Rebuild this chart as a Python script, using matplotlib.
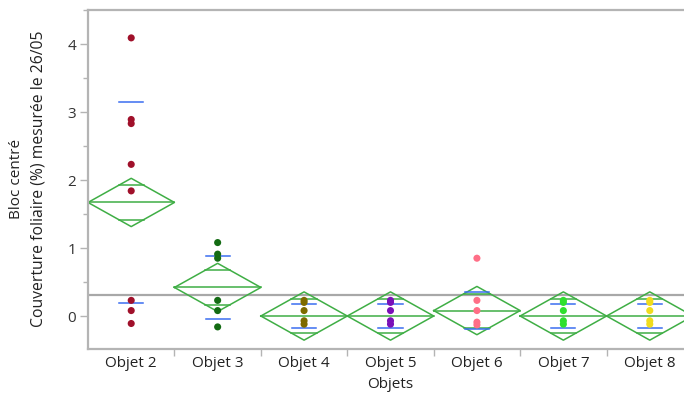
import numpy as np
import matplotlib.pyplot as plt
from matplotlib.ticker import MultipleLocator

# Groups and individual observations
objets = ["Objet 2", "Objet 3", "Objet 4", "Objet 5", "Objet 6", "Objet 7", "Objet 8"]
obj2 = [4.09, 2.89, 2.83, 2.23, 1.84, 0.23, 0.08, -0.11]
obj3 = [1.08, 0.91, 0.85, 0.23, 0.08, -0.16]
obj4 = [0.23, 0.20, 0.08, -0.07, -0.12]
obj5 = [0.23, 0.20, 0.08, -0.07, -0.12]
obj6 = [0.85, 0.23, 0.08, -0.09, -0.13]
obj7 = [0.23, 0.20, 0.08, -0.07, -0.12]
obj8 = [0.23, 0.20, 0.08, -0.07, -0.12]
points = [obj2, obj3, obj4, obj5, obj6, obj7, obj8]

# Summary stats
means = [1.67, 0.42, 0.00, 0.00, 0.08, 0.00, 0.00]
ci_half = [0.355, 0.355, 0.355, 0.355, 0.355, 0.355, 0.355]
std_dev = [1.48, 0.46, 0.18, 0.18, 0.27, 0.18, 0.18]
grand_mean = 0.31

colors = ["#a0102a", "#136b13", "#7d6a00", "#7a10b8", "#ff6f87", "#2ee02e", "#f0dc1e"]
diamond_col = "#3fae45"
sd_col = "#3a6df0"
axis_col = "#b4b4b4"
text_col = "#222222"

plt.rcParams['font.family'] = ['Open Sans', 'DejaVu Sans']

fig = plt.figure(figsize=(6.84, 4.01), dpi=100)
ax = fig.add_axes([88 / 684, 1 - 349 / 401, (693 - 88) / 684, (349 - 10) / 401])

ax.axhline(grand_mean, color="#a8a8a8", lw=1.6, zorder=1)

for i, (vals, m, ci, sd, c) in enumerate(zip(points, means, ci_half, std_dev, colors)):
    # means diamond
    ax.plot([i - 0.5, i, i + 0.5, i, i - 0.5], [m, m + ci, m, m - ci, m],
            color=diamond_col, lw=1.1, zorder=2)
    ax.plot([i - 0.5, i + 0.5], [m, m], color=diamond_col, lw=1.1, zorder=2)
    # overlap marks
    ov = ci / np.sqrt(2)
    hw = 0.5 * (1 - ov / ci)
    for s in (1, -1):
        ax.plot([i - hw, i + hw], [m + s * ov, m + s * ov], color=diamond_col, lw=1.1, zorder=2)
    # std dev lines
    for s in (1, -1):
        ax.plot([i - 0.14, i + 0.14], [m + s * sd, m + s * sd], color=sd_col, lw=1.1, zorder=3)
    ax.scatter([i] * len(vals), vals, s=26, color=c, edgecolors="none", zorder=4)

ax.set_xlim(-0.5, 6.5)
ax.set_ylim(-0.485, 4.5)

ax.set_xticks(range(len(objets)))
ax.set_xticklabels(objets, fontsize=11, color=text_col)
ax.set_xticks(np.arange(0.5, 6.0, 1.0), minor=True)
ax.tick_params(axis="x", which="major", length=0, pad=5)
ax.tick_params(axis="x", which="minor", length=5, width=1, color=axis_col)

ax.set_yticks([0, 1, 2, 3, 4])
ax.yaxis.set_minor_locator(MultipleLocator(0.5))
ax.tick_params(axis="y", which="major", length=5.5, width=1, color=axis_col, labelsize=11,
               labelcolor="#333333", pad=3)
ax.tick_params(axis="y", which="minor", length=3.5, width=1, color=axis_col)

for side in ("left", "bottom", "top"):
    ax.spines[side].set_color(axis_col)
    ax.spines[side].set_linewidth(1.6)
ax.spines["right"].set_visible(False)

ax.set_xlabel("Objets", fontsize=11, color=text_col, labelpad=4)

# two-line y label, placed by hand like the original
fig.text(17 / 684, 1 - 179 / 401, "Bloc centré", rotation=90, fontsize=11,
         color=text_col, ha="center", va="center")
fig.text(39 / 684, 1 - 179 / 401, "Couverture foliaire (%) mesurée le 26/05", rotation=90,
         fontsize=11.3, color=text_col, ha="center", va="center")

fig.savefig("out.png", dpi=100)
